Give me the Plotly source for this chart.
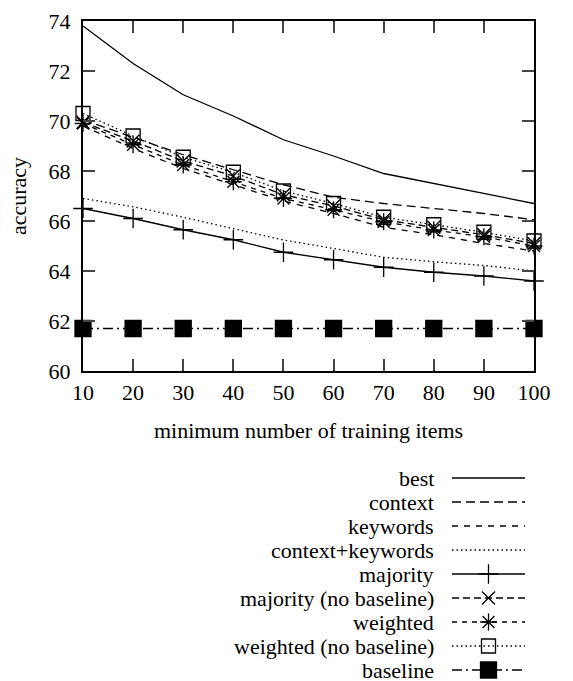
import plotly.graph_objects as go

x_vals = [10, 20, 30, 40, 50, 60, 70, 80, 90, 100]
best = [73.8, 72.3, 71.05, 70.2, 69.25, 68.6, 67.9, 67.5, 67.1, 66.7]
context = [70.05, 69.35, 68.65, 68.05, 67.45, 66.95, 66.7, 66.5, 66.3, 66.05]
keywords = [69.8, 68.9, 68.1, 67.45, 66.8, 66.3, 65.75, 65.45, 65.1, 64.8]
context_keywords = [66.9, 66.57, 66.15, 65.7, 65.24, 64.9, 64.55, 64.37, 64.22, 64.0]
majority = [66.5, 66.1, 65.65, 65.25, 64.75, 64.45, 64.15, 63.95, 63.8, 63.6]
majority_nb = [69.95, 69.2, 68.4, 67.8, 67.05, 66.6, 66.05, 65.75, 65.45, 65.1]
weighted = [69.9, 69.05, 68.24, 67.57, 66.9, 66.45, 65.97, 65.64, 65.37, 65.0]
weighted_nb = [70.3, 69.4, 68.55, 67.95, 67.2, 66.7, 66.15, 65.85, 65.55, 65.2]
baseline = [61.7] * 10

names = ["best", "context", "keywords", "context+keywords", "majority",
         "majority (no baseline)", "weighted", "weighted (no baseline)", "baseline"]
series = [best, context, keywords, context_keywords, majority,
          majority_nb, weighted, weighted_nb, baseline]

styles = [
    dict(dash="solid", symbol=None, size=0),
    dict(dash="9px,5px", symbol=None, size=0),
    dict(dash="6px,6px", symbol=None, size=0),
    dict(dash="1.5px,3px", symbol=None, size=0),
    dict(dash="solid", symbol="cross-thin-open", size=14),
    dict(dash="7px,4px", symbol="x-thin-open", size=13),
    dict(dash="5px,5px", symbol="asterisk-open", size=14),
    dict(dash="1.5px,3px", symbol="square-open", size=14),
    dict(dash="10px,4px,2px,4px", symbol="square", size=16),
]

FONT = '"Liberation Serif", "DejaVu Serif", "Times New Roman", serif'
FS = 22
fig = go.Figure()

for name, ys, st in zip(names, series, styles):
    mode = "lines+markers" if st["symbol"] else "lines"
    marker = dict(symbol=st["symbol"], size=st["size"], color="black",
                  line=dict(color="black", width=1.3)) if st["symbol"] else None
    fig.add_trace(go.Scatter(
        x=x_vals, y=ys, mode=mode, name=name,
        line=dict(color="black", width=1.3, dash=st["dash"]),
        marker=marker, cliponaxis=False, showlegend=False,
        xaxis="x", yaxis="y"))

# custom legend (text left, sample right)
for i, (name, st) in enumerate(zip(names, styles)):
    fig.add_trace(go.Scatter(
        x=[0, 1], y=[i, i], mode="lines",
        line=dict(color="black", width=1.3, dash=st["dash"]),
        showlegend=False, xaxis="x2", yaxis="y2", hoverinfo="skip"))
    if st["symbol"]:
        fig.add_trace(go.Scatter(
            x=[0.5], y=[i], mode="markers",
            marker=dict(symbol=st["symbol"], size=st["size"], color="black",
                        line=dict(color="black", width=1.3)),
            showlegend=False, xaxis="x2", yaxis="y2", hoverinfo="skip"))
    fig.add_annotation(
        x=(436 - 83) / 451, xref="paper", y=i, yref="y2",
        text=name, showarrow=False, xanchor="right", yanchor="middle",
        font=dict(family=FONT, size=FS, color="black"))

W, H = 573, 681
ml, mr, mt, mb = 83, 39, 21, 0
ph = H - mt - mb
fig.update_layout(
    width=W, height=H,
    margin=dict(l=ml, r=mr, t=mt, b=mb, autoexpand=False),
    paper_bgcolor="white", plot_bgcolor="white",
    font=dict(family=FONT, size=FS, color="black"),
    showlegend=False,
    xaxis=dict(
        range=[10, 100], tickvals=x_vals, ticks="inside", ticklen=12, tickwidth=2,
        showline=True, linewidth=2, linecolor="black", mirror="ticks",
        showgrid=False, zeroline=False, ticklabelstandoff=1, automargin=False,
        title=dict(text="minimum number of training items", standoff=18,
                   font=dict(family=FONT, size=FS)),
        anchor="y", domain=[0, 1]),
    yaxis=dict(
        range=[60, 74], tickvals=[60, 62, 64, 66, 68, 70, 72, 74],
        ticks="inside", ticklen=12, tickwidth=2,
        showline=True, linewidth=2, linecolor="black", mirror="ticks",
        showgrid=False, zeroline=False, ticklabelstandoff=6, automargin=False,
        title=dict(text="accuracy", standoff=16, font=dict(family=FONT, size=FS)),
        anchor="x", domain=[(H - 371) / ph, 1]),
    xaxis2=dict(range=[0, 1], domain=[(452 - 83) / 451, (525 - 83) / 451],
                visible=False, anchor="y2"),
    yaxis2=dict(range=[(681 - 478) / 24.0, -(478 - 470) / 24.0],
                domain=[0, (681 - 470) / ph], visible=False, anchor="x2"),
)

fig.write_html("out.html", config={"displayModeBar": False},
               post_script="document.body.style.margin='0';document.body.style.overflow='hidden';")
